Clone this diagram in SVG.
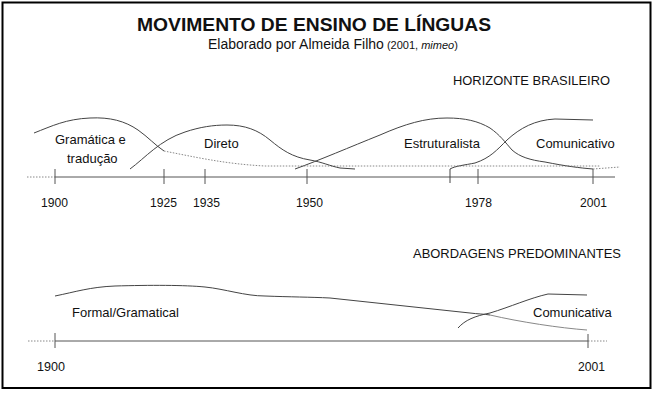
<svg xmlns="http://www.w3.org/2000/svg" width="658" height="394" viewBox="0 0 658 394">
<style>
text{font-family:"Liberation Sans",Arial,sans-serif;fill:#111;}
.t{font-size:18px;font-weight:bold;}
.s{font-size:14px;}
.l{font-size:13px;}
.c{fill:none;stroke:#444;stroke-width:1;}
.d{fill:none;stroke:#888;stroke-width:1;stroke-dasharray:1.5 1.5;}
.g{fill:none;stroke:#888;stroke-width:1;}
.ax{fill:none;stroke:#555;stroke-width:1;}
</style>
<rect x="2.5" y="2.5" width="648" height="385.5" fill="#fff" stroke="#000" stroke-width="2"/>
<g id="title">
<text class="t" x="137" y="31" textLength="354" lengthAdjust="spacingAndGlyphs">MOVIMENTO DE ENSINO DE LÍNGUAS</text>
<text class="s" x="208" y="49">Elaborado por Almeida Filho<tspan font-size="11"> (2001, <tspan font-style="italic">mimeo</tspan>)</tspan></text>
</g>
<g id="header-top"><text class="l" x="453" y="85" textLength="157" lengthAdjust="spacingAndGlyphs">HORIZONTE BRASILEIRO</text></g>
<g id="header-bottom"><text class="l" x="413" y="258" textLength="208" lengthAdjust="spacingAndGlyphs">ABORDAGENS PREDOMINANTES</text></g>
<g id="connectors">
<path class="d" d="M27,177 L55,177"/>
<path class="ax" d="M55,177 L615,177"/>
<path class="ax" d="M55,169 V184 M164,169 V184 M205,169 V184 M307,169 V184 M478,169 V184 M593,169 V184"/>
<path class="d" d="M28,341 L55,341"/>
<path class="ax" d="M55,341 L588,341"/>
<path class="d" d="M588,341 L607,341"/>
<path class="ax" d="M55,333 V348 M588,334 V348"/>
</g>
<g id="gramatica">
<path class="c" d="M34,133 C52,126 66,119 90,118 C110,117 125,121 138,130 C148,137 155,145 164,151"/>
<path class="d" d="M164,151 C195,157 225,164 265,166 L600,166"/>
<text class="l" x="55" y="144">Gramática e</text>
<text class="l" x="67" y="163">tradução</text>
</g>
<g id="direto">
<path class="c" d="M130,169 C145,158 160,140 185,132 C200,127 213,125 227,125 C245,125 258,130 270,140 C282,150 292,157 310,160 C322,162 330,166 340,168 L355,169"/>
<text class="l" x="204" y="148">Direto</text>
</g>
<g id="estruturalista">
<path class="c" d="M295,169 C320,160 350,147 380,135 C405,124 425,118 447,118 C465,118 478,121 490,128 C500,135 505,142 512,150 C520,157 530,160 545,162 C565,166 580,168 593,169"/>
<path class="d" d="M593,169 L620,167"/>
<text class="l" x="404" y="148">Estruturalista</text>
</g>
<g id="comunicativo">
<path class="c" d="M450,183 L450,169 C455,166 465,165 475,163 C490,158 497,150 507,140 C520,128 535,120 555,119 L593,120"/>
<text class="l" x="536" y="148">Comunicativo</text>
</g>
<g id="labels-top">
<text class="l" x="41" y="207" textLength="27" lengthAdjust="spacingAndGlyphs">1900</text>
<text class="l" x="150" y="207" textLength="27" lengthAdjust="spacingAndGlyphs">1925</text>
<text class="l" x="193" y="207" textLength="27" lengthAdjust="spacingAndGlyphs">1935</text>
<text class="l" x="296" y="207" textLength="27" lengthAdjust="spacingAndGlyphs">1950</text>
<text class="l" x="465" y="207" textLength="27" lengthAdjust="spacingAndGlyphs">1978</text>
<text class="l" x="580" y="207" textLength="27" lengthAdjust="spacingAndGlyphs">2001</text>
</g>
<g id="formal">
<path class="c" d="M55,296 C75,292 90,287 115,286 C150,285 185,285 205,287 C225,289 245,296 265,296 C290,297 310,297 330,298 L470,313 C478,314 484,314 490,315"/>
<path class="g" d="M490,315 C520,322 560,328 587,330"/>
<text class="l" x="72" y="317">Formal/Gramatical</text>
</g>
<g id="comunicativa">
<path class="c" d="M458,328 C465,320 475,316 490,313 C510,307 530,298 548,294 L587,295"/>
<text class="l" x="533" y="317">Comunicativa</text>
</g>
<g id="labels-bottom">
<text class="l" x="37" y="371" textLength="28" lengthAdjust="spacingAndGlyphs">1900</text>
<text class="l" x="578" y="371" textLength="27" lengthAdjust="spacingAndGlyphs">2001</text>
</g>
</svg>
